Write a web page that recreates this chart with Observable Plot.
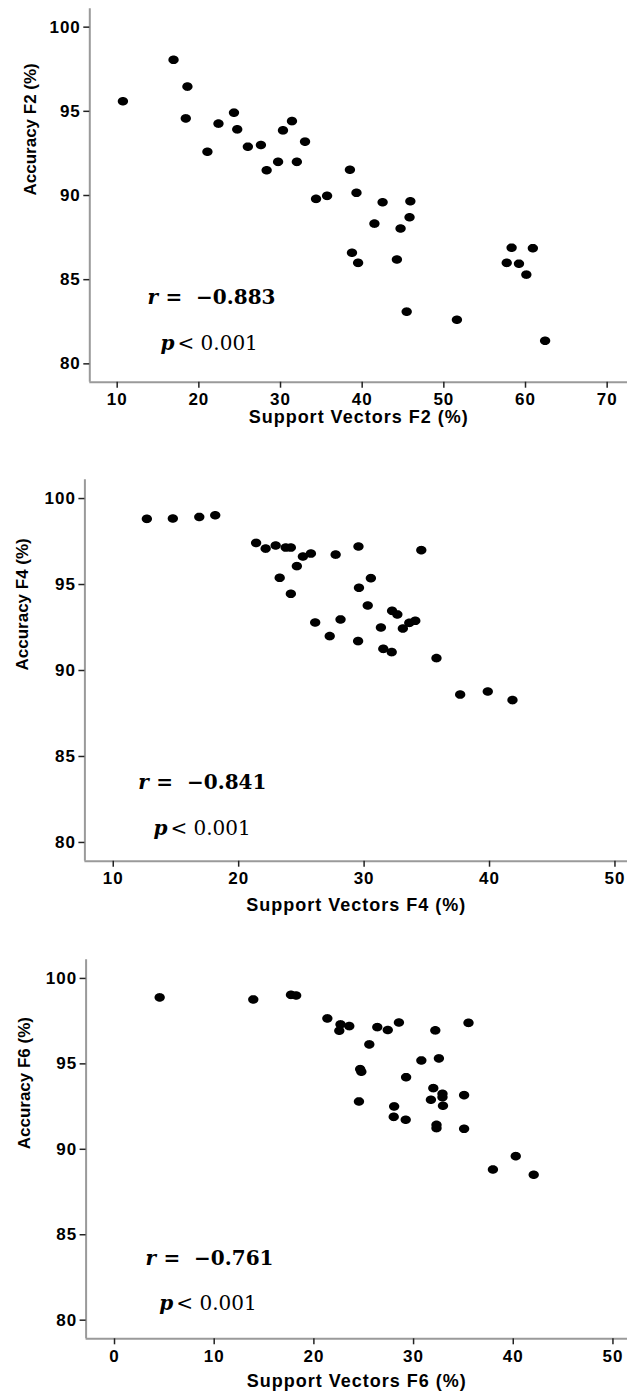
<!DOCTYPE html>
<html>
<head>
<meta charset="utf-8">
<script src="https://cdn.jsdelivr.net/npm/d3@7"></script>
<script src="https://cdn.jsdelivr.net/npm/@observablehq/plot@0.6"></script>
<style>
  html, body { margin: 0; padding: 0; background: #fff; }
  svg { display: block; }
  svg text { letter-spacing: 1px; }
  svg text[transform*="rotate"] { letter-spacing: 0; }
  svg g[font-family*="Serif"] text { letter-spacing: 0; }
</style>
</head>
<body>
<div id="chart"></div>
<script>
// ---------- Data ----------
const svF2 = [10.7,16.9,18.6,18.4,22.4,21.05,24.3,24.7,26.0,27.6,28.3,29.7,30.3,31.4,32.0,33.0,34.35,35.7,38.5,39.3,38.75,39.5,42.5,41.5,44.7,45.9,45.8,44.25,45.45,51.6,57.7,58.3,59.2,60.1,60.9,62.4];
const accF2 = [95.6,98.06,96.47,94.58,94.27,92.6,94.92,93.93,92.9,93.0,91.5,92.0,93.87,94.42,92.0,93.2,89.8,89.98,91.53,90.16,86.6,86.0,89.6,88.33,88.04,89.66,88.71,86.2,83.1,82.62,86.0,86.9,85.95,85.3,86.87,81.37];

const svF4 = [12.68,14.75,16.86,18.13,21.39,22.15,22.95,23.75,24.16,25.12,25.76,24.64,23.27,24.16,27.73,29.55,34.56,29.59,30.54,30.29,26.1,28.12,27.26,29.52,31.34,31.53,32.2,32.23,32.65,33.09,33.6,34.08,35.77,37.66,39.86,41.83];
const accF4 = [98.82,98.84,98.93,99.03,97.42,97.09,97.27,97.15,97.15,96.63,96.8,96.07,95.39,94.46,96.74,97.21,97.0,94.81,95.37,93.78,92.79,92.97,92.0,91.71,92.5,91.26,91.07,93.47,93.26,92.44,92.77,92.89,90.72,88.6,88.78,88.28];

const svF6 = [4.53,13.92,17.7,18.22,21.35,22.67,22.55,23.55,26.36,27.41,28.53,25.56,32.18,35.51,30.78,32.54,24.64,24.76,29.25,31.98,32.9,32.9,35.07,31.74,32.95,24.52,28.05,28.01,29.21,32.3,32.3,35.07,37.96,40.25,42.05];
const accF6 = [98.89,98.77,99.04,99.0,97.66,97.31,96.94,97.21,97.15,96.98,97.42,96.14,96.96,97.4,95.2,95.32,94.69,94.54,94.22,93.58,93.25,93.05,93.17,92.9,92.55,92.8,92.51,91.9,91.73,91.43,91.24,91.2,88.82,89.6,88.51];

const yTicks = [80, 85, 90, 95, 100];
const xTicksF2 = [10, 20, 30, 40, 50, 60, 70];
const xTicksF4 = [10, 20, 30, 40, 50];
const xTicksF6 = [0, 10, 20, 30, 40, 50];

const yLabels = ["Accuracy F2 (%)", "Accuracy F4 (%)", "Accuracy F6 (%)"];
const xLabels = ["Support Vectors F2 (%)", "Support Vectors F4 (%)", "Support Vectors F6 (%)"];
const rValues = ["=  \u22120.883", "=  \u22120.841", "=  \u22120.761"];
const pValues = ["< 0.001", "< 0.001", "< 0.001"];
// annotation anchor positions (data coordinates)
const rX = [13.7, 12.0, 3.1];
const rY = [83.94, 83.5, 83.61];
const pX = [15.3, 13.2, 4.5];
const pY = [81.2, 80.81, 80.98];

// ---------- Helpers ----------
const ellipse = {
  draw(context, size) {
    const r = Math.sqrt(size / Math.PI);
    const rx = r * 1.2, ry = r;
    const n = 40;
    context.moveTo(rx, 0);
    for (let i = 1; i < n; ++i) {
      const a = (2 * Math.PI * i) / n;
      context.lineTo(rx * Math.cos(a), ry * Math.sin(a));
    }
    context.closePath();
  }
};

const sansFont = "'Liberation Sans', Arial, Helvetica, sans-serif";
const serifFont = "'DejaVu Serif', 'Liberation Serif', serif";

function panel(cfg) {
  const pts = cfg.xs.map((x, i) => ({x, y: cfg.ys[i]}));
  return Plot.plot({
    width: 627,
    height: cfg.height,
    marginLeft: cfg.marginLeft,
    marginRight: 0,
    marginTop: cfg.marginTop,
    marginBottom: cfg.marginBottom,
    x: {domain: cfg.xDomain},
    y: {domain: cfg.yDomain},
    style: {fontFamily: sansFont, background: "white", overflow: "visible"},
    marks: [
      Plot.ruleX([cfg.xDomain[0]], {stroke: "#9a9a9a", strokeWidth: 2}),
      Plot.ruleY([cfg.yDomain[0]], {stroke: "#9a9a9a", strokeWidth: 2}),
      Plot.axisY(yTicks, {tickSize: 6, tickPadding: 3, fontSize: 17, fontWeight: "bold", stroke: "#222", fill: "black", strokeWidth: 1.5, label: null}),
      Plot.axisX(cfg.xTicks, {tickSize: 6, tickPadding: 5, fontSize: 17, fontWeight: "bold", stroke: "#222", fill: "black", strokeWidth: 1.5, label: null}),
      Plot.dot(pts, {x: "x", y: "y", r: 4.3, symbol: ellipse, fill: "black", stroke: "none"}),
      Plot.text([cfg.yLabel], {frameAnchor: "left", rotate: -90, dx: cfg.yLabelDx, fontSize: 17, fontWeight: "bold", fill: "black"}),
      Plot.text([cfg.xLabel], {frameAnchor: "bottom", dy: cfg.xLabelDy, fontSize: 18, fontWeight: "bold", fill: "black"}),
      Plot.text([{x: cfg.rx, y: cfg.ry}], {x: "x", y: "y", text: () => "r", textAnchor: "start", fontFamily: serifFont, fontStyle: "italic", fontWeight: "bold", fontSize: 20, fill: "black"}),
      Plot.text([{x: cfg.rx, y: cfg.ry}], {x: "x", y: "y", text: () => cfg.rText, dx: 18, textAnchor: "start", fontFamily: serifFont, fontWeight: "bold", fontSize: 20, fill: "black"}),
      Plot.text([{x: cfg.px, y: cfg.py}], {x: "x", y: "y", text: () => "p", textAnchor: "start", fontFamily: serifFont, fontStyle: "italic", fontWeight: "bold", fontSize: 20, fill: "black"}),
      Plot.text([{x: cfg.px, y: cfg.py}], {x: "x", y: "y", text: () => cfg.pText, dx: 17, textAnchor: "start", fontFamily: serifFont, fontSize: 20, fill: "black"})
    ]
  });
}

const chart = document.getElementById("chart");
chart.appendChild(panel({
  xs: svF2, ys: accF2, height: 440, marginLeft: 89.3, marginTop: 8.3, marginBottom: 58.3,
  xDomain: [6.645, 72.49], yDomain: [78.91, 101.09], xTicks: xTicksF2,
  yLabel: yLabels[0], xLabel: xLabels[0], yLabelDx: -59, xLabelDy: 41,
  rx: rX[0], ry: rY[0], px: pX[0], py: pY[0], rText: rValues[0], pText: pValues[0]
}));
chart.appendChild(panel({
  xs: svF4, ys: accF4, height: 480, marginLeft: 84.4, marginTop: 39.3, marginBottom: 59.3,
  xDomain: [7.74, 51.0], yDomain: [78.91, 101.09], xTicks: xTicksF4,
  yLabel: yLabels[1], xLabel: xLabels[1], yLabelDx: -62, xLabelDy: 50,
  rx: rX[1], ry: rY[1], px: pX[1], py: pY[1], rText: rValues[1], pText: pValues[1]
}));
chart.appendChild(panel({
  xs: svF6, ys: accF6, height: 476, marginLeft: 85.6, marginTop: 39.3, marginBottom: 57.7,
  xDomain: [-2.85, 51.46], yDomain: [78.91, 101.09], xTicks: xTicksF6,
  yLabel: yLabels[2], xLabel: xLabels[2], yLabelDx: -62, xLabelDy: 48,
  rx: rX[2], ry: rY[2], px: pX[2], py: pY[2], rText: rValues[2], pText: pValues[2]
}));
</script>
</body>
</html>
